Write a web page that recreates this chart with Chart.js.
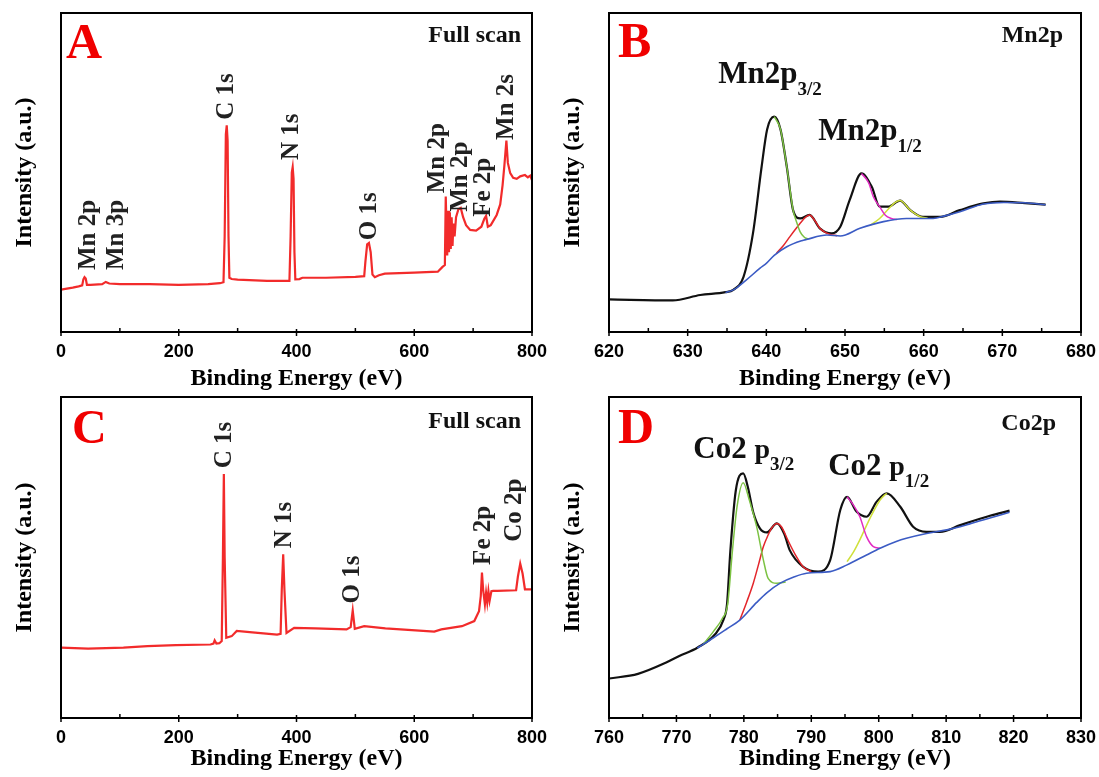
<!DOCTYPE html>
<html><head><meta charset="utf-8">
<script src="https://cdn.jsdelivr.net/npm/chart.js@4.4.1/dist/chart.umd.min.js"></script>
<style>
html,body{margin:0;padding:0;background:#fff;}
body{width:1099px;height:777px;position:relative;overflow:hidden;}
canvas{position:absolute;}
</style></head><body>
<canvas id="ca" width="548" height="393" style="left:0;top:0"></canvas>
<canvas id="cb" width="551" height="393" style="left:548px;top:0"></canvas>
<canvas id="cc" width="548" height="393" style="left:0;top:384px"></canvas>
<canvas id="cd" width="551" height="393" style="left:548px;top:384px"></canvas>
<script>
// ---------- DATA ----------
// Panel A: full scan (Mn sample)
const energyA = [0,10,20,30,36,38,40,42,44,50,70,76,82,100,150,200,250,270,276,278,280,281.5,283,284.5,286,290,300,350,380,388,390,392,393.5,395,396.5,398,405,410,450,500,515,517,520,523,526,529,533,540,550,600,640,648,652,653.5,655,656,657.5,659,660.5,662,663.5,665,666.5,668.5,671,675,679,683,688,695,705,714,719,722,725,730,740,746,750,753,756.5,759,763,768,774,780,788,793,797,800];
const intensityA = [13.3,13.6,13.9,14.3,14.6,16.5,17.2,16.8,14.8,14.8,15.0,15.7,15.2,15.0,15.0,14.8,15.0,15.3,15.6,30,62,64.8,60,30,17.0,16.6,16.4,16.0,16.0,16.0,30,50,51.7,48,25,16.5,16.6,17.0,17.0,17.3,17.5,22,27.5,27.9,25,18,17.2,17.8,18.3,18.6,18.9,20.4,21,42.5,31,24,38,25,37.5,26,36,27,34,30,36,38.5,38.9,36,33.5,32,31.8,33,35.5,36.4,33,33.5,36.7,40,46,52,60,53,49.8,48.3,48,48.8,49.2,48.5,49,47.6];

// Panel B: Mn2p high resolution
const bTotalE = [620,628.1,631.6,634.8,635.8,637.1,638.3,639.4,640.1,641.0,641.8,642.6,643.4,644.3,645.5,646.8,648.3,649.4,650.6,652.1,653.4,654.4,655.5,657.0,658.3,659.9,662.1,664.6,667.6,669.7,672.9,675.5];
const bTotalI = [10.2,9.9,11.6,12.5,13.2,17.3,30.9,51.8,63.5,67.5,63.5,51.8,38.2,35.6,36.7,32.5,30.9,33.0,41.4,49.7,45.5,39.3,39.3,41.2,38.2,36.1,36.1,38.2,40.3,40.9,40.4,39.9];
const bBackE = [634.8,635.8,637.4,639.2,640.0,641.0,642.6,644.5,645.1,647.7,649.4,651.9,654.9,657.8,661.2,662.7,664.6,667.6,670.2,672.9,675.5];
const bBackI = [12.4,13.2,16.2,20.0,21.5,24.0,26.7,28.6,29.0,30.4,30.1,32.5,34.6,35.6,35.6,36.4,37.7,40.1,40.6,40.5,39.9];
const bPk1E = [641.0,641.8,642.6,643.4,643.9,644.3,644.8,645.3];
const bPk1I = [67.5,63.5,51.8,38.2,34.1,31.4,29.8,29.1];
const bPk2E = [641.3,642.2,643.0,643.7,644.3,645.0,645.5,646.2,646.8,647.5,648.1,649.0];
const bPk2I = [24.7,27.2,29.9,32.2,34.1,36.0,36.7,34.8,32.5,31.2,30.6,30.2];
const bPk3E = [652.1,653.0,653.6,654.4,655.1,655.9,656.6];
const bPk3I = [49.7,46.8,42.4,39.3,36.7,35.6,35.3];
const bPk4E = [653.2,654.4,655.6,656.3,657.0,658.3,659.5,660.5];
const bPk4I = [33.5,35.6,38.8,40.5,41.2,38.2,36.2,35.7];

// Panel C: full scan (Co sample)
const energyC = [0,46,106,147,195,254,259,261,264,269,273,275,276.6,278,280.7,290,298.5,325,367,373,375,377.4,379.5,383,396,432,485,492,495.5,499,515,551,634,646,681,702,710,713,715,717,720,722,724,726,728,731,734,741,773,776,780,784,788,800];
const intensityC = [21.9,21.6,21.9,22.4,22.7,22.9,23.2,24.2,23.2,23.3,24,50,76.0,50,25,25.5,27.1,26.7,26.0,26.2,40,51.0,40,26.5,28.1,27.9,27.6,28.3,33.5,27.8,28.6,27.9,26.9,27.6,28.6,30.2,33.3,38,45.3,40,35.4,39,36,39.5,36.5,39.5,39.6,39.6,39.8,44,48.1,45,40.1,40.1];

// Panel D: Co2p high resolution
const dTotalE = [760,764.3,768.4,770.5,773.1,775.7,777.0,777.5,778.0,778.8,779.9,780.6,781.4,782.4,783.4,784.9,786.0,786.8,788.8,791.0,792.8,794.3,795.3,796.7,798.2,799.7,801.2,803.2,805.1,807.1,809.1,812.1,816.5,819.4];
const dTotalI = [12.3,13.75,17.2,19.4,21.9,26.0,30.7,35.4,52.1,70.8,76.2,71.9,64.0,59.0,57.8,60.6,57.3,52.3,47.1,45.6,49.2,64.8,68.9,64.3,62.7,67.4,70.0,65.8,59.6,58.0,58.0,60.1,63.0,64.6];
const dBackE = [773.1,775.5,777.5,779.4,781.9,783.4,785.4,787.5,789.3,792.8,795.3,798.2,800.2,802.6,804.1,807.1,810.1,813.4,816.5,819.4];
const dBackI = [21.8,25.0,27.8,30.5,36.0,39.0,42.0,44.0,45.1,45.6,47.7,50.8,52.9,55.0,56.0,57.5,58.6,60.4,62.3,64.1];
const dPk1E = [774.0,775.5,776.8,777.6,778.3,779.0,779.9,780.8,781.9,782.9,783.6,784.9,786.2];
const dPk1I = [23.0,27.0,31.0,35.5,52.0,66.0,73.3,68.0,59.6,49.2,43.5,42.0,42.4];
const dPk2E = [779.4,780.4,781.4,782.2,782.9,783.6,784.1,784.9,785.6,786.5,787.6,788.8,790.0];
const dPk2I = [30.5,36.0,42.0,48.0,53.4,57.0,59.1,60.6,59.5,55.5,51.0,47.1,45.6];
const dPk3E = [795.3,796.2,797.2,798.2,799.2,800.2];
const dPk3I = [68.9,66.5,62.7,56.5,53.4,52.9];
const dPk4E = [795.3,796.2,797.2,798.7,800.2,800.9,801.2];
const dPk4I = [48.7,51.5,55.5,62.2,67.9,69.5,70.0];

// ---------- STYLE / LAYOUT ----------
const SERIF = '"Liberation Serif","Times New Roman",serif';
const SANS = '"Liberation Sans",Arial,sans-serif';
const RED_LINE = '#f22b2b', BLACK = '#111111', BLUE = '#3b5bc4', GREEN = '#7cc243', RED = '#e3262b', MAGENTA = '#e22cc2', YELLOW = '#cfe03a';

const framePlugin = {
  id: 'frame',
  afterDraw(chart, args, opts) {
    const {ctx, chartArea: a, scales: {x, y}} = chart;
    ctx.save();
    ctx.strokeStyle = '#000';
    x.ticks.forEach(t => {
      const px = x.getPixelForValue(t.value);
      const major = t.label !== '';
      ctx.lineWidth = 1.5;
      ctx.beginPath();
      if (major) { ctx.moveTo(px, a.bottom + 4); ctx.lineTo(px, a.bottom - 3); }
      else { ctx.moveTo(px, a.bottom); ctx.lineTo(px, a.bottom - 4); }
      ctx.stroke();
    });
    ctx.lineWidth = 2;
    ctx.strokeRect(a.left, a.top, a.right - a.left, a.bottom - a.top);
    (opts.corner || []).forEach(c => {
      ctx.font = `bold ${c.size}px ${SERIF}`;
      ctx.fillStyle = c.color;
      ctx.textBaseline = 'alphabetic';
      ctx.textAlign = c.align;
      const px = c.align === 'right' ? a.right - c.dx : a.left + c.dx;
      ctx.fillText(c.text, px, a.top + c.dy);
    });
    (opts.peaks || []).forEach(p => {
      ctx.save();
      ctx.translate(x.getPixelForValue(p.x), y.getPixelForValue(p.y));
      ctx.rotate(-Math.PI / 2);
      ctx.font = `bold ${opts.peakSize}px ${SERIF}`;
      ctx.fillStyle = '#222';
      ctx.textAlign = 'left';
      ctx.textBaseline = 'middle';
      ctx.fillText(p.text, 0, 0);
      ctx.restore();
    });
    (opts.rich || []).forEach(r => {
      let px = x.getPixelForValue(r.x);
      const py = y.getPixelForValue(r.y);
      ctx.textAlign = 'left';
      ctx.textBaseline = 'alphabetic';
      ctx.fillStyle = '#111';
      r.parts.forEach(part => {
        ctx.font = `bold ${part.size}px ${SERIF}`;
        ctx.fillText(part.t, px, py + (part.dy || 0));
        px += ctx.measureText(part.t).width;
      });
    });
    ctx.restore();
  }
};

function series(e, v, color, w, smooth) {
  return {
    data: e.map((ev, i) => ({x: ev, y: v[i]})),
    borderColor: color, borderWidth: w, pointRadius: 0, fill: false,
    tension: smooth ? 0.4 : 0, cubicInterpolationMode: smooth ? 'monotone' : 'default'
  };
}

function makeChart(id, cfg) {
  return new Chart(document.getElementById(id), {
    type: 'line',
    data: {datasets: cfg.datasets},
    options: {
      responsive: false, animation: false, events: [],
      layout: {padding: {top: cfg.padTop, right: cfg.padRight, left: 0, bottom: 0}},
      plugins: {legend: {display: false}, tooltip: {enabled: false}, frame: cfg.annot},
      scales: {
        x: {
          type: 'linear', min: cfg.min, max: cfg.max,
          ticks: {stepSize: cfg.step, autoSkip: false, maxRotation: 0, minRotation: 0, padding: 9, color: '#000',
                  font: {family: SANS, size: 18, weight: 'bold'},
                  callback: v => (Math.round(v) % cfg.labelStep === 0 ? String(Math.round(v)) : '')},
          grid: {display: false, drawTicks: false, tickLength: 0}, border: {display: false},
          title: {display: true, text: 'Binding Energy (eV)', color: '#000',
                  font: {family: SERIF, size: 24, weight: 'bold'}, padding: {top: 0, bottom: cfg.titlePadB}},
          afterFit: s => { s.height = cfg.xH; s.paddingLeft = 0; s.paddingRight = 0; }
        },
        y: {
          min: 0, max: 100,
          ticks: {display: false}, grid: {display: false, drawTicks: false}, border: {display: false},
          title: {display: true, text: 'Intensity (a.u.)', color: '#000',
                  font: {family: SERIF, size: 24, weight: 'bold'}, padding: {top: 10, bottom: 0}},
          afterFit: s => { s.width = 61; s.paddingTop = 0; s.paddingBottom = 0; }
        }
      }
    },
    plugins: [framePlugin]
  });
}

makeChart('ca', {
  min: 0, max: 800, step: 100, labelStep: 200, padTop: 13, padRight: 16, xH: 61, titlePadB: 0,
  datasets: [series(energyA, intensityA, RED_LINE, 2.2, false)],
  annot: {
    peakSize: 25,
    corner: [{text: 'A', size: 50, color: '#f00000', align: 'left', dx: 5, dy: 45},
             {text: 'Full scan', size: 24, color: '#111', align: 'right', dx: 11, dy: 29}],
    peaks: [{text: 'Mn 2p', x: 46, y: 19.4}, {text: 'Mn 3p', x: 94, y: 19.4},
            {text: 'C 1s', x: 282, y: 66.5}, {text: 'N 1s', x: 392, y: 53.9},
            {text: 'O 1s', x: 524, y: 28.8}, {text: 'Mn 2p', x: 639, y: 43.5},
            {text: 'Mn 2p', x: 678, y: 37.7}, {text: 'Fe 2p', x: 718, y: 36.1},
            {text: 'Mn 2s', x: 757, y: 60.2}]
  }
});

makeChart('cb', {
  min: 620, max: 680, step: 5, labelStep: 10, padTop: 13, padRight: 18, xH: 61, titlePadB: 0,
  datasets: [
    series(bBackE, bBackI, BLUE, 1.6, true),
    series(bPk1E, bPk1I, GREEN, 1.5, true),
    series(bPk2E, bPk2I, RED, 1.5, true),
    series(bPk3E, bPk3I, MAGENTA, 1.5, true),
    series(bPk4E, bPk4I, YELLOW, 1.5, true),
    series(bTotalE, bTotalI, BLACK, 2.2, true)
  ],
  annot: {
    corner: [{text: 'B', size: 50, color: '#f00000', align: 'left', dx: 9, dy: 44},
             {text: 'Mn2p', size: 24, color: '#111', align: 'right', dx: 18, dy: 29}],
    rich: [{x: 633.9, y: 78.1, parts: [{t: 'Mn2p', size: 31}, {t: '3/2', size: 19, dy: 12}]},
           {x: 646.6, y: 60.2, parts: [{t: 'Mn2p', size: 31}, {t: '1/2', size: 19, dy: 12}]}]
  }
});

makeChart('cc', {
  min: 0, max: 800, step: 100, labelStep: 200, padTop: 13, padRight: 16, xH: 59, titlePadB: 4,
  datasets: [series(energyC, intensityC, RED_LINE, 2.2, false)],
  annot: {
    peakSize: 25,
    corner: [{text: 'C', size: 48, color: '#f00000', align: 'left', dx: 11, dy: 46},
             {text: 'Full scan', size: 24, color: '#111', align: 'right', dx: 11, dy: 31}],
    peaks: [{text: 'C 1s', x: 278, y: 77.8}, {text: 'N 1s', x: 379, y: 52.9},
            {text: 'O 1s', x: 496, y: 35.7}, {text: 'Fe 2p', x: 717, y: 47.7},
            {text: 'Co 2p', x: 770, y: 54.9}]
  }
});

makeChart('cd', {
  min: 760, max: 830, step: 5, labelStep: 10, padTop: 13, padRight: 18, xH: 59, titlePadB: 4,
  datasets: [
    series(dBackE, dBackI, BLUE, 1.6, true),
    series(dPk1E, dPk1I, GREEN, 1.5, true),
    series(dPk2E, dPk2I, RED, 1.5, true),
    series(dPk3E, dPk3I, MAGENTA, 1.5, true),
    series(dPk4E, dPk4I, YELLOW, 1.5, true),
    series(dTotalE, dTotalI, BLACK, 2.2, true)
  ],
  annot: {
    corner: [{text: 'D', size: 50, color: '#f00000', align: 'left', dx: 9, dy: 46},
             {text: 'Co2p', size: 24, color: '#111', align: 'right', dx: 25, dy: 33}],
    rich: [{x: 772.5, y: 81.0, parts: [{t: 'Co2 ', size: 31}, {t: 'p', size: 28}, {t: '3/2', size: 19, dy: 12}]},
           {x: 792.5, y: 75.7, parts: [{t: 'Co2 ', size: 31}, {t: 'p', size: 28}, {t: '1/2', size: 19, dy: 12}]}]
  }
});
</script>
</body></html>
